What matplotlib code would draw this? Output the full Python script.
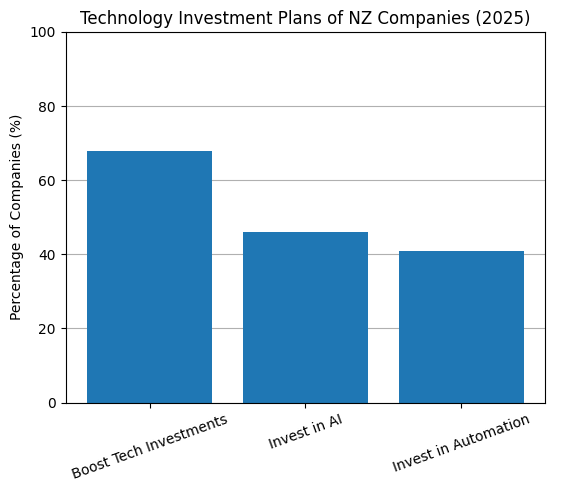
import matplotlib
matplotlib.use("Agg")
import matplotlib.pyplot as plt

categories = ["Boost Tech Investments", "Invest in AI", "Invest in Automation"]
percentages = [68, 46, 41]

fig, ax = plt.subplots(figsize=(5.71, 4.91), dpi=100)
ax.bar(categories, percentages, color="#1f77b4")
ax.set_ylim(0, 100)
ax.set_ylabel("Percentage of Companies (%)")
ax.set_title("Technology Investment Plans of NZ Companies (2025)")
ax.grid(axis="y")
ax.set_axisbelow(True)
plt.xticks(rotation=20)
plt.subplots_adjust(left=0.115, right=0.955, top=0.935, bottom=0.18)
fig.savefig("out.png", dpi=100)
